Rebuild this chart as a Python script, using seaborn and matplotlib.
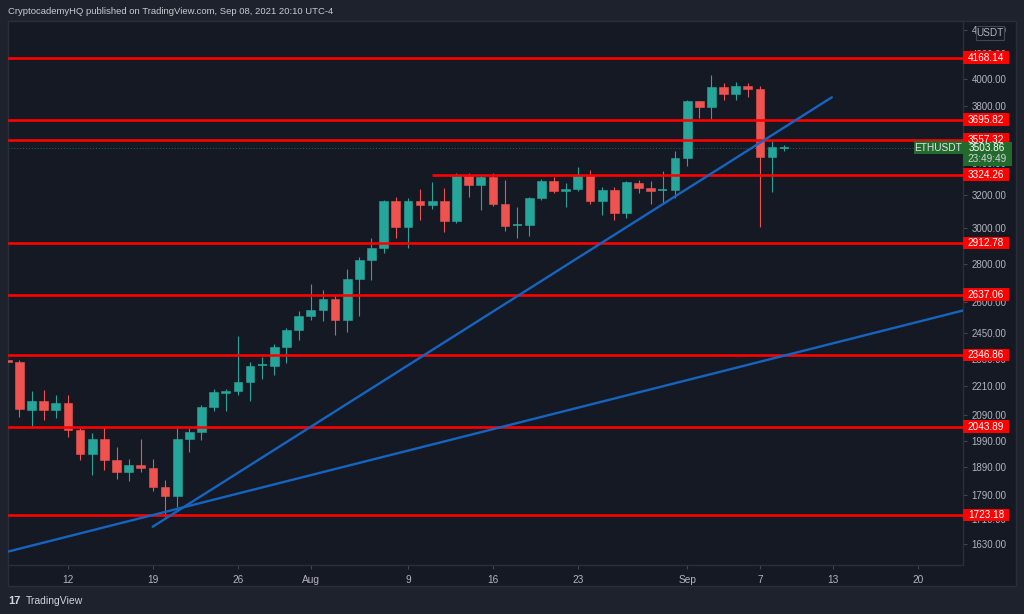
import numpy as np
import pandas as pd
import matplotlib
matplotlib.use("Agg")
import matplotlib.pyplot as plt
import matplotlib.dates as mdates
from matplotlib.patches import Rectangle
from matplotlib.ticker import FixedLocator, NullLocator, FuncFormatter
from matplotlib import font_manager
import seaborn as sns

# ---------------- data ----------------
dates = pd.date_range("2021-07-07", "2021-09-09", freq="D")
opens = [2324, 2317, 2111, 2148, 2109, 2141, 2031, 1938, 1995, 1918, 1874, 1897, 1889, 1819,
         1787, 1995, 2025, 2122, 2183, 2189, 2227, 2296, 2300, 2384, 2463,
         2533, 2562, 2614, 2514, 2718, 2820, 2886, 3158, 3005, 3158, 3138, 3158, 3040, 3319,
         3262, 3308, 3144, 3009, 3016, 3176, 3283, 3223, 3237, 3316, 3158, 3229, 3088, 3273,
         3238, 3222, 3229,
         3435, 3833, 3791, 3937, 3884, 3950, 3922, 3438, 3496]
highs = [2330, 2325, 2192, 2195, 2175, 2171, 2040, 2020, 2043, 1967, 1920, 1995, 1920, 1844,
         2039, 2040, 2131, 2200, 2200, 2436, 2318, 2340, 2400, 2475, 2558,
         2691, 2660, 2637, 2771, 2834, 2944, 3168, 3184, 3180, 3237, 3276, 3240, 3336, 3336,
         3325, 3336, 3289, 3124, 3185, 3299, 3311, 3273, 3375, 3354, 3250, 3250, 3283, 3292,
         3283, 3349, 3482,
         3838, 3835, 4031, 3967, 3979, 3967, 3947, 3552, 3524]
lows = [2300, 2084, 2047, 2070, 2077, 2003, 1918, 1862, 1880, 1847, 1842, 1874, 1804, 1718,
        1749, 1947, 1993, 2105, 2105, 2171, 2150, 2242, 2258, 2311, 2416,
        2514, 2508, 2439, 2455, 2533, 2713, 2856, 2942, 2886, 3044, 3113, 2977, 3028, 3186,
        3107, 3130, 2985, 2944, 2952, 3164, 3208, 3124, 3225, 3144, 3074, 3048, 3060, 3208,
        3144, 3144, 3180,
        3383, 3713, 3702, 3838, 3838, 3860, 3004, 3214, 3482]
closes = [2316, 2114, 2148, 2109, 2141, 2031, 1939, 1995, 1918, 1874, 1897, 1889, 1819, 1787,
          1996, 2025, 2125, 2186, 2191, 2229, 2299, 2301, 2384, 2463, 2533,
          2562, 2614, 2514, 2718, 2820, 2886, 3158, 3005, 3158, 3138, 3158, 3040, 3319, 3262,
          3308, 3140, 3009, 3016, 3176, 3283, 3223, 3237, 3316, 3158, 3229, 3088, 3276, 3240,
          3223, 3229, 3435,
          3833, 3791, 3937, 3884, 3950, 3922, 3438, 3505, 3504]

levels = [4168.14, 3695.82, 3557.32, 3324.26, 2912.78, 2637.06, 2346.86, 2043.89, 1723.18]
level_starts = [None, None, None, "2021-08-11", None, None, None, None, None]

trend1_dates = ["2021-07-18 23:30", "2021-09-12 22:00"]
trend1_prices = [1685, 3861]
trend2_dates = ["2021-07-07 01:30", "2021-09-23 17:00"]
trend2_prices = [1606, 2558]

last_price = 3503.86
countdown = "23:49:49"
symbol = "ETHUSDT"

price_ticks = [1630, 1710, 1790, 1890, 1990, 2090, 2210, 2330, 2450, 2600, 2800,
               3000, 3200, 3400, 3800, 4000, 4200, 4400]
time_tick_dates = ["2021-07-12", "2021-07-19", "2021-07-26", "2021-08-01", "2021-08-09",
                   "2021-08-16", "2021-08-23", "2021-09-01", "2021-09-07", "2021-09-13",
                   "2021-09-20"]
time_tick_labels = ["12", "19", "26", "Aug", "9", "16", "23", "Sep", "7", "13", "20"]

header = "CryptocademyHQ published on TradingView.com, Sep 08, 2021 20:10 UTC-4"

# ---------------- style ----------------
BG_OUT = "#1e222d"
BG = "#151924"
BORDER = "#2a2e39"
TXT = "#b2b5be"
UP = "#26a69a"
DOWN = "#ef5350"
LEVEL = "#ff0000"
TREND = "#1565c0"
LABEL_GREEN = "#226b2c"

sns.set_theme(style="dark", rc={"axes.facecolor": BG, "figure.facecolor": BG_OUT})
names = {f.name for f in font_manager.fontManager.ttflist}
fam = "Liberation Sans Narrow" if "Liberation Sans Narrow" in names else "Liberation Sans"
plt.rcParams["font.family"] = [fam, "DejaVu Sans"]

W, H = 1024, 614
fig = plt.figure(figsize=(W / 100, H / 100), dpi=100)
fig.patch.set_facecolor(BG_OUT)

# widget background
fig.add_artist(Rectangle((7.5 / W, (H - 586) / H), (1016 - 7.5) / W, (586 - 21) / H,
                         transform=fig.transFigure, fc=BG, ec=BORDER, lw=1, zorder=-1))

ax = fig.add_axes([8 / W, (H - 565) / H, 955 / W, 544 / H])
ax.set_facecolor(BG)

df = pd.DataFrame({"date": dates, "open": opens, "high": highs, "low": lows, "close": closes})
df["x"] = mdates.date2num(df["date"])
df["up"] = df["close"] >= df["open"]

XMIN = mdates.date2num(pd.Timestamp("2021-07-07 01:30"))
XMAX = mdates.date2num(pd.Timestamp("2021-09-23 17:20"))
ax.set_yscale("log")
ax.set_ylim(1565, 4474)
ax.set_xlim(XMIN, XMAX)

for _, r in df.iterrows():
    col = UP if r["up"] else DOWN
    ax.vlines(r["x"], r["low"], r["high"], color=col, lw=0.8, zorder=2)
    lo, hi = min(r["open"], r["close"]), max(r["open"], r["close"])
    if hi / lo < 1.003:
        ax.hlines(r["close"], r["x"] - 0.36, r["x"] + 0.36, color=col, lw=1.2, zorder=3)
    else:
        ax.bar(r["x"], hi - lo, bottom=lo, width=0.72, color=col, edgecolor=col,
               linewidth=0.4, zorder=3)

# last price dotted line
ax.axhline(last_price, color=UP, lw=0.7, ls=(0, (1, 2)), alpha=0.55, zorder=1)

# horizontal levels
for lv, st in zip(levels, level_starts):
    if st is None:
        ax.axhline(lv, color=LEVEL, lw=1.9, zorder=4)
    else:
        ax.hlines(lv, mdates.date2num(pd.Timestamp(st)), XMAX, color=LEVEL, lw=1.9, zorder=4)

# trend lines via seaborn
t1 = pd.DataFrame({"x": mdates.date2num(pd.to_datetime(trend1_dates)), "y": trend1_prices})
t2 = pd.DataFrame({"x": mdates.date2num(pd.to_datetime(trend2_dates)), "y": trend2_prices})
sns.lineplot(data=t1, x="x", y="y", ax=ax, color=TREND, lw=1.7, zorder=5)
sns.lineplot(data=t2, x="x", y="y", ax=ax, color=TREND, lw=1.7, zorder=5)
ax.set_xlabel("")
ax.set_ylabel("")
ax.set_xlim(XMIN, XMAX)
ax.set_ylim(1565, 4474)
ax.grid(False)

# axes ticks
ax.yaxis.set_major_locator(FixedLocator(price_ticks))
ax.yaxis.set_minor_locator(NullLocator())
ax.yaxis.set_major_formatter(FuncFormatter(lambda v, p: f"{v:.2f}"))
ax.tick_params(axis="y", which="both", left=False, right=True, labelleft=False,
               labelright=True, length=3, width=0.8, color="#434651",
               labelcolor=TXT, labelsize=7, pad=3)
ax.set_xticks(mdates.date2num(pd.to_datetime(time_tick_dates)))
ax.set_xticklabels(time_tick_labels)
ax.tick_params(axis="x", bottom=True, length=3, width=0.8, color="#434651",
               labelcolor=TXT, labelsize=7.3, pad=4)
for s in ax.spines.values():
    s.set_color(BORDER)
    s.set_linewidth(1)

# price labels (boxes) in the price scale


def yfig(price):
    return ax.transData.transform((XMIN, price))[1] / H


for lv in levels:
    yf = yfig(lv)
    fig.add_artist(Rectangle((963 / W, yf - 6 / H), 46 / W, 12.5 / H,
                             transform=fig.transFigure, fc=LEVEL, ec="none", zorder=5))
    fig.text(986 / W, yf, f"{lv:.2f}", ha="center", va="center", color="white",
             fontsize=7.2, zorder=6)

yf = yfig(last_price)
fig.add_artist(Rectangle((914 / W, yf - 6.5 / H), 48.5 / W, 13 / H,
                         transform=fig.transFigure, fc=LABEL_GREEN, ec="none", zorder=5))
fig.text(938 / W, yf, symbol, ha="center", va="center", color="#e0e3eb", fontsize=7.3, zorder=6)
fig.add_artist(Rectangle((963 / W, yf - 18 / H), 49 / W, 24 / H,
                         transform=fig.transFigure, fc=LABEL_GREEN, ec="none", zorder=5))
fig.text(987 / W, yf, f"{last_price:.2f}", ha="center", va="center", color="white",
         fontsize=7.2, zorder=6)
fig.text(987 / W, yf - 11 / H, countdown, ha="center", va="center", color="#d1d4dc",
         fontsize=7.2, zorder=6)

# USDT badge
fig.add_artist(Rectangle((976 / W, (H - 39.5) / H), 27.5 / W, 13.5 / H,
                         transform=fig.transFigure, fc=BG, ec="#434651", lw=0.8, zorder=5))
fig.text(989.7 / W, (H - 32.7) / H, "USDT", ha="center", va="center", color=TXT,
         fontsize=7.2, zorder=6)

# header / footer
fig.text(8 / W, (H - 11) / H, header, ha="left", va="center", color="#c8cbd3", fontsize=6.8)
fig.text(8 / W, (H - 601) / H, "17", ha="left", va="center", color="#d1d4dc",
         fontsize=8, fontweight="bold")
fig.text(26 / W, (H - 601) / H, "TradingView", ha="left", va="center", color="#d1d4dc",
         fontsize=7.5)

fig.savefig("out.png", dpi=100, facecolor=BG_OUT)
